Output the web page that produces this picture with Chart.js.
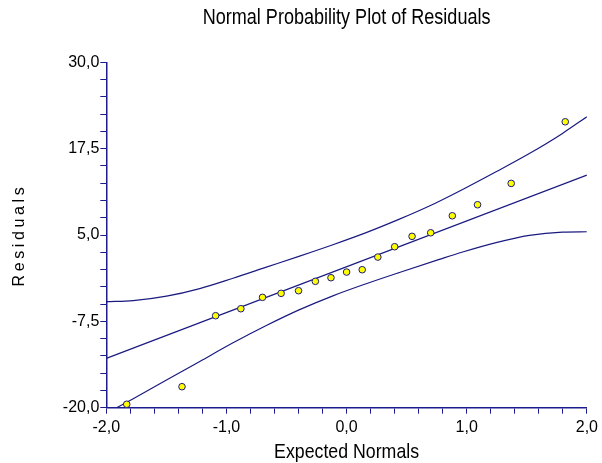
<!DOCTYPE html>
<html>
<head>
<meta charset="utf-8">
<script src="https://cdn.jsdelivr.net/npm/chart.js@4/dist/chart.umd.min.js"></script>
<style>
  html, body { margin: 0; padding: 0; background: #ffffff; }
  #c { display: block; }
</style>
</head>
<body>
<canvas id="c" width="602" height="463"></canvas>
<script>
// ---- data ----
const expectedNormals = [-1.83, -1.37, -1.09, -0.88, -0.70, -0.545, -0.40, -0.26, -0.13, 0.0,
                         0.13, 0.26, 0.40, 0.545, 0.70, 0.88, 1.09, 1.37, 1.82];
const residuals = [-19.5, -16.96, -6.68, -5.67, -4.02, -3.44, -3.06, -1.70, -1.18, -0.36,
                   -0.02, 1.81, 3.31, 4.81, 5.33, 7.79, 9.39, 12.48, 21.4];

const fitX = [-2.0, 2.0];
const fitY = [-12.85, 13.69];

const upperX = [-2.0, -1.776, -1.499, -1.222, -0.945, -0.668, -0.391, -0.114, 0.163, 0.44,
                0.689, 0.966, 1.244, 1.521, 1.797, 2.0];
const upperY = [-4.65, -4.5, -3.85, -2.75, -1.25, 0.35, 1.95, 3.6, 5.35, 7.3,
                9.2, 11.6, 14.16, 16.8, 19.72, 22.13];

const lowerX = [-1.914, -1.776, -1.499, -1.222, -0.945, -0.668, -0.391, -0.114, 0.163, 0.44,
                0.772, 0.966, 1.244, 1.521, 1.797, 2.0];
const lowerY = [-20.0, -18.7, -16.0, -13.3, -10.6, -8.1, -5.8, -3.8, -2.05, -0.42,
                1.47, 2.54, 3.90, 4.96, 5.43, 5.48];

const xMajorValues = [-2, -1, 0, 1, 2];
const xTickLabels = ['-2,0', '-1,0', '0,0', '1,0', '2,0'];
const yMajorValues = [-20, -7.5, 5, 17.5, 30];
const yTickLabels = ['-20,0', '-7,5', '5,0', '17,5', '30,0'];

const chartTitle = 'Normal Probability Plot of Residuals';
const xTitle = 'Expected Normals';
const yTitle = 'Residuals';

// ---- styling ----
const NAVY = '#1c1c8c';
const CURVE = '#1a1a80';
const SANS = "'Liberation Sans', Arial, sans-serif";

function pairs(xs, ys) { return xs.map((x, i) => ({ x: x, y: ys[i] })); }
function labelFor(majors, labels) {
  return function (v) {
    const i = majors.findIndex(m => Math.abs(m - v) < 1e-6);
    return i >= 0 ? labels[i] : '';
  };
}

// horizontally condense a text-drawing method (the reference uses a narrow face)
function squeeze(obj, key, factor, centerOf) {
  if (!obj || obj['_sq_' + key]) return;
  const orig = obj[key];
  obj[key] = function () {
    const ctx = this.ctx;
    const cx = centerOf(this);
    ctx.save();
    ctx.translate(cx, 0);
    ctx.scale(factor, 1);
    ctx.translate(-cx, 0);
    orig.apply(this, arguments);
    ctx.restore();
  };
  obj['_sq_' + key] = true;
}

const textStyling = {
  id: 'textStyling',
  afterUpdate(chart) {
    squeeze(chart.titleBlock, 'draw', 0.82, b => (b.left + b.right) / 2);
    squeeze(chart.scales.x, 'drawTitle', 0.845, s => (s.left + s.right) / 2);
    const s = chart.scales.y;
    if (s && !s._spaced) {
      const orig = s.drawTitle;
      s.drawTitle = function () {
        const ctx = this.ctx;
        const prev = ctx.letterSpacing;
        ctx.letterSpacing = '3.6px';
        orig.apply(this, arguments);
        ctx.letterSpacing = prev || '0px';
      };
      s._spaced = true;
    }
  }
};

const lineStyle = {
  type: 'line',
  borderColor: CURVE,
  borderWidth: 1.2,
  pointRadius: 0,
  pointHoverRadius: 0,
  fill: false,
  showLine: true,
  cubicInterpolationMode: 'monotone',
  order: 2
};

new Chart(document.getElementById('c'), {
  type: 'scatter',
  data: {
    datasets: [
      Object.assign({ label: 'Upper limit', data: pairs(upperX, upperY) }, lineStyle),
      Object.assign({ label: 'Fitted line', data: pairs(fitX, fitY) }, lineStyle, { cubicInterpolationMode: 'default', tension: 0 }),
      Object.assign({ label: 'Lower limit', data: pairs(lowerX, lowerY) }, lineStyle),
      {
        label: 'Residuals',
        data: pairs(expectedNormals, residuals),
        pointRadius: 3.3,
        pointHoverRadius: 3.3,
        pointBackgroundColor: '#ffff00',
        pointBorderColor: CURVE,
        pointBorderWidth: 1,
        backgroundColor: '#ffff00',
        borderColor: CURVE,
        order: 0
      }
    ]
  },
  options: {
    responsive: false,
    devicePixelRatio: 1,
    animation: false,
    events: [],
    layout: { padding: { left: 0, right: 14.3, top: 0, bottom: 0 } },
    plugins: {
      legend: { display: false },
      tooltip: { enabled: false },
      title: {
        display: true,
        text: chartTitle,
        fullSize: false,
        align: 'center',
        color: '#000000',
        font: { family: SANS, size: 22, weight: 'normal', lineHeight: 1.2 },
        padding: { top: 5, bottom: 31 }
      }
    },
    scales: {
      x: {
        type: 'linear',
        position: 'bottom',
        min: -2,
        max: 2,
        afterFit: function (s) { s.height = 55.3; },
        ticks: {
          stepSize: 0.2,
          autoSkip: false,
          maxRotation: 0,
          minRotation: 0,
          padding: 4,
          color: '#000000',
          font: { family: SANS, size: 16 },
          callback: labelFor(xMajorValues, xTickLabels)
        },
        grid: { drawOnChartArea: false, drawTicks: true, tickLength: 6, color: NAVY, lineWidth: 1 },
        border: { display: true, color: NAVY, width: 1.5 },
        title: {
          display: true,
          text: xTitle,
          color: '#000000',
          font: { family: SANS, size: 21, lineHeight: 1 },
          padding: { top: 0, bottom: 0.5 }
        }
      },
      y: {
        type: 'linear',
        position: 'left',
        min: -20,
        max: 30,
        afterFit: function (s) { s.width = 106.3; },
        ticks: {
          stepSize: 2.5,
          autoSkip: false,
          padding: 1,
          color: '#000000',
          font: { family: SANS, size: 16 },
          callback: labelFor(yMajorValues, yTickLabels)
        },
        grid: { drawOnChartArea: false, drawTicks: true, tickLength: 6, color: NAVY, lineWidth: 1 },
        border: { display: true, color: NAVY, width: 1.5 },
        title: {
          display: true,
          text: yTitle,
          color: '#000000',
          font: { family: SANS, size: 16, lineHeight: 1.2 },
          padding: { top: 10, bottom: 0 }
        }
      }
    }
  },
  plugins: [textStyling]
});
</script>
</body>
</html>
